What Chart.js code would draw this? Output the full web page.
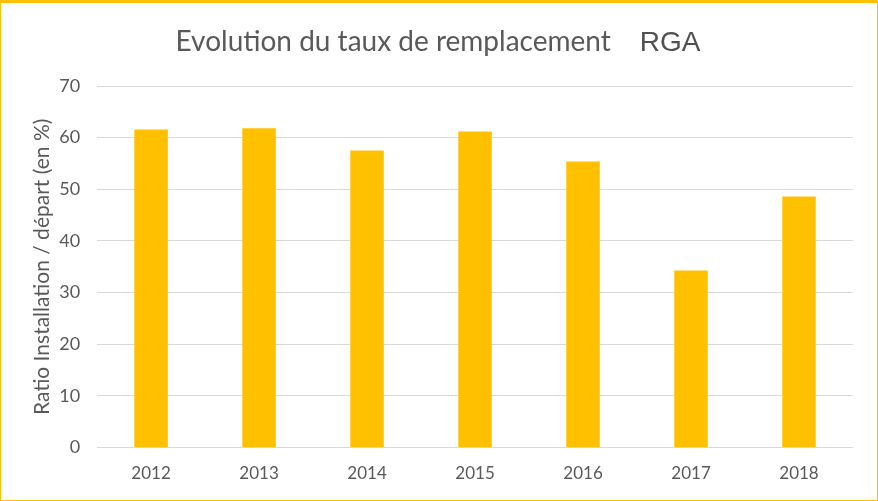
<!DOCTYPE html>
<html>
<head>
<meta charset="utf-8">
<script src="https://cdn.jsdelivr.net/npm/chart.js@4/dist/chart.umd.min.js"></script>
<style>
  html, body { margin: 0; padding: 0; background: #fff; }
  #frame {
    width: 878px; height: 501px; box-sizing: border-box;
    border: 1px solid #FFC000; border-top: 3px solid #FFC000;
    position: relative;
  }
  #frame canvas { position: absolute; left: 0; top: 0; }
</style>
</head>
<body>
<div id="frame"><canvas id="chart" width="876" height="497"></canvas></div>
<script>
// chart data
const years  = ['2012', '2013', '2014', '2015', '2016', '2017', '2018'];
const ratios = [61.6, 61.8, 57.5, 61.2, 55.4, 34.3, 48.6];
const yTicks = [0, 10, 20, 30, 40, 50, 60, 70];

const titleMain = 'Evolution du taux de remplacement';
const titleTag  = 'RGA';
const yTitle    = 'Ratio Installation / départ (en %)';

const GREY = '#595959';

// two-font title (Calibri-ish text + Arial tag), centred on the canvas
const twoPartTitle = {
  id: 'twoPartTitle',
  afterDraw(chart){
    const ctx = chart.ctx;
    ctx.save();
    const fMain = '28px Lato, "Open Sans", sans-serif';
    const fTag  = '28px "Liberation Sans", Arial, sans-serif';
    const gap = 29;
    ctx.font = fMain; const wMain = ctx.measureText(titleMain).width;
    ctx.font = fTag;  const wTag  = ctx.measureText(titleTag).width;
    let x = (chart.width - (wMain + gap + wTag)) / 2 - 1;
    const y = 48;
    ctx.textBaseline = 'alphabetic';
    ctx.textAlign = 'left';
    ctx.fillStyle = GREY;
    ctx.font = fMain; ctx.fillText(titleMain, x, y);
    x += wMain + gap;
    ctx.fillStyle = '#505050';
    ctx.font = fTag;  ctx.fillText(titleTag, x, y);
    ctx.restore();
  }
};

new Chart(document.getElementById('chart').getContext('2d'), {
  type: 'bar',
  data: {
    labels: years,
    datasets: [{
      data: ratios,
      backgroundColor: '#FFC000',
      borderWidth: 0,
      barPercentage: 0.31,
      categoryPercentage: 1,
    }],
  },
  options: {
    responsive: false,
    animation: false,
    layout: { padding: { top: 83, right: 24, bottom: 0, left: 29 } },
    plugins: { legend: { display: false }, tooltip: { enabled: false } },
    scales: {
      x: {
        grid: { display: false, drawTicks: false },
        border: { display: false },
        ticks: { color: GREY, font: { family: 'Lato', size: 17 }, padding: 16 },
      },
      y: {
        min: 0, max: 70,
        afterBuildTicks: (s) => { s.ticks = yTicks.map(v => ({ value: v })); },
        grid: { color: '#D9D9D9', lineWidth: 1, drawTicks: false },
        border: { display: false },
        ticks: { color: GREY, font: { family: 'Lato', size: 18 }, padding: 17 },
        title: {
          display: true, text: yTitle, color: GREY,
          font: { family: 'Lato', size: 21 }, padding: { top: 0, bottom: -13 },
        },
      },
    },
  },
  plugins: [twoPartTitle],
});
</script>
</body>
</html>
